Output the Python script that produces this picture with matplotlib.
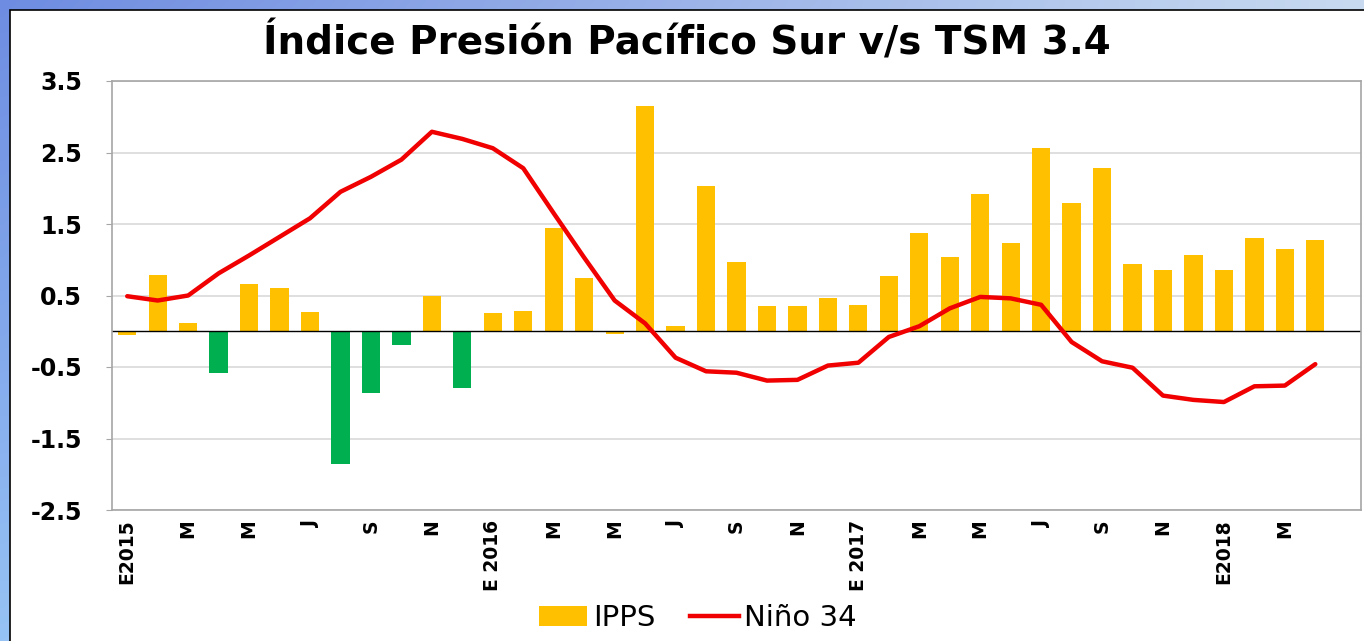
import numpy as np
import matplotlib
matplotlib.use("Agg")
import matplotlib.pyplot as plt
from matplotlib.patches import Rectangle, Patch
from matplotlib.lines import Line2D

# ---- data ----
tick_labels = ["E2015", "M", "M", "J", "S", "N",
               "E 2016", "M", "M", "J", "S", "N",
               "E 2017", "M", "M", "J", "S", "N",
               "E2018", "M"]
ipps = [-0.05, 0.78, 0.11, -0.59, 0.66, 0.61, 0.27, -1.86, -0.86, -0.19,
        0.49, -0.80, 0.26, 0.28, 1.45, 0.75, -0.04, 3.15, 0.07, 2.03,
        0.97, 0.36, 0.36, 0.46, 0.37, 0.77, 1.37, 1.04, 1.92, 1.23,
        2.56, 1.79, 2.28, 0.94, 0.85, 1.06, 0.86, 1.31, 1.15, 1.27]
nino34 = [0.49, 0.43, 0.50, 0.81, 1.06, 1.32, 1.58, 1.95, 2.16, 2.40,
          2.79, 2.69, 2.56, 2.28, 1.65, 1.03, 0.43, 0.11, -0.37, -0.56,
          -0.58, -0.69, -0.68, -0.48, -0.44, -0.08, 0.07, 0.32, 0.48, 0.46,
          0.37, -0.15, -0.42, -0.51, -0.90, -0.96, -0.99, -0.77, -0.76, -0.46]
n_slots = 41

plt.rcParams['font.family'] = ['DejaVu Sans']

W, H = 1364, 641
fig = plt.figure(figsize=(W / 100, H / 100), dpi=100)

# background frame gradient
bg = fig.add_axes([0, 0, 1, 1], zorder=-10)
gx = np.linspace(0, 1, 256)[None, :]
gy = np.linspace(0, 1, 256)[:, None]
c_tl = np.array([110, 140, 225]) / 255
c_tr = np.array([200, 218, 240]) / 255
c_bl = np.array([150, 195, 245]) / 255
img = (c_tl * (1 - gx[..., None]) * (1 - gy[..., None]) +
       c_tr * gx[..., None] * (1 - gy[..., None]) +
       c_bl * (1 - gx[..., None]) * gy[..., None] +
       c_tr * gx[..., None] * gy[..., None])
bg.imshow(img, extent=[0, W, H, 0], aspect='auto')
bg.add_patch(Rectangle((9.5, 9.5), W, H, facecolor='white', edgecolor='black', lw=1.2))
bg.set_xlim(0, W)
bg.set_ylim(H, 0)
bg.axis('off')

ax = fig.add_axes([112 / W, 1 - 510 / H, (1361 - 112) / W, (510 - 81) / H])
x = np.arange(len(ipps))
colors = ['#FFC000' if v > -0.1 else '#00B050' for v in ipps]
ax.bar(x, ipps, width=0.6, color=colors, zorder=2)
ax.plot(x, nino34, color='#F00000', lw=3.2, zorder=3, solid_capstyle='round',
        solid_joinstyle='round')
ax.axhline(0, color='black', lw=1, zorder=2.5)

ax.set_xlim(-0.5, n_slots - 0.5)
ax.set_ylim(-2.5, 3.5)
yt = np.arange(-2.5, 3.6, 1.0)
ax.set_yticks(yt)
ax.set_yticklabels([f"{v:.1f}" for v in yt], fontsize=17, fontweight='bold')
ax.grid(axis='y', color='#D9D9D9', lw=1.2, zorder=0)
ax.set_axisbelow(True)
ax.set_xticks(x[::2])
ax.set_xticklabels(tick_labels, rotation=90, fontsize=13.5, fontweight='bold',
                   va='top')
ax.tick_params(axis='x', length=0, pad=7)
ax.tick_params(axis='y', length=4, color='#A6A6A6', pad=17.5)
for s in ax.spines.values():
    s.set_color('#A6A6A6')
    s.set_linewidth(1.2)

fig.text(687 / W, 1 - 42 / H, "Índice Presión Pacífico Sur v/s TSM 3.4",
         ha='center', va='center', fontsize=28, fontweight='bold')

handles = [Patch(facecolor='#FFC000', label='IPPS'),
           Line2D([0], [0], color='#F00000', lw=3.2, label='Niño 34')]
fig.legend(handles=handles, loc='center', bbox_to_anchor=(698 / W, 1 - 618 / H),
           ncol=2, frameon=False, fontsize=21, handlelength=1.65,
           handletextpad=0.2, columnspacing=1.2)

fig.savefig('out.png', dpi=100)
